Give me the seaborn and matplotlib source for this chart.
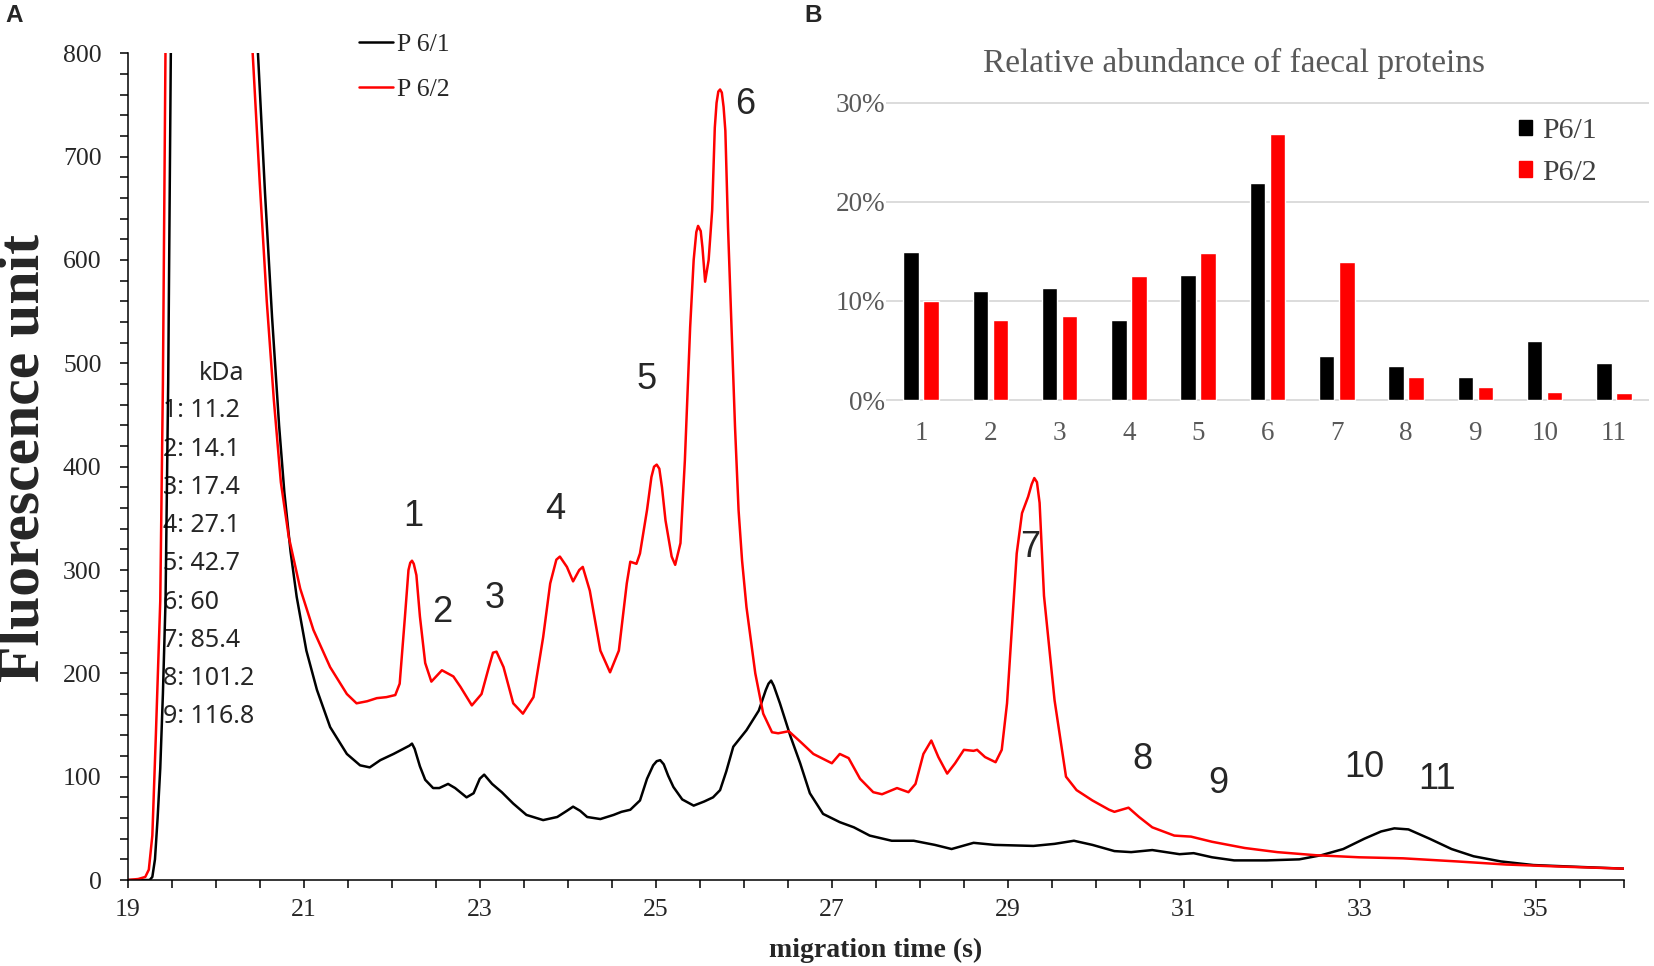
import numpy as np
import pandas as pd
import matplotlib
matplotlib.use('Agg')
import matplotlib.pyplot as plt
from matplotlib.ticker import MultipleLocator, PercentFormatter
from matplotlib.patches import Patch
import seaborn as sns

# electropherogram traces (time in s, fluorescence units)
time_p61 = [19.0, 19.25, 19.28, 19.31, 19.34, 19.37, 19.40, 19.43, 19.46, 19.49, 19.52, 19.9,
            20.45, 20.48, 20.56, 20.64, 20.72, 20.78, 20.85, 20.92, 21.03, 21.15, 21.30, 21.49,
            21.64, 21.75, 21.87, 22.02, 22.11, 22.20, 22.23, 22.26, 22.32, 22.38, 22.47, 22.54, 22.64,
            22.72, 22.85, 22.93, 23.00, 23.05, 23.14, 23.25, 23.38, 23.53, 23.72, 23.88, 23.99,
            24.06, 24.14, 24.22, 24.37, 24.52, 24.61, 24.71, 24.82, 24.90, 24.97, 25.01, 25.05, 25.09,
            25.14, 25.20, 25.30, 25.43, 25.55, 25.65, 25.73, 25.80, 25.88, 26.03, 26.17, 26.25, 26.28,
            26.31, 26.34, 26.41, 26.53, 26.64, 26.75, 26.90, 27.09, 27.25, 27.43, 27.68, 27.93, 28.17,
            28.36, 28.61, 28.85, 29.29, 29.53, 29.75, 29.96, 30.21, 30.40, 30.64, 30.95, 31.11, 31.32,
            31.57, 31.94, 32.31, 32.56, 32.81, 33.05, 33.24, 33.39, 33.55, 33.79, 34.04, 34.29, 34.60,
            34.97, 35.40, 36.0]
fluor_p61 = [0, 0, 3, 20, 60, 108, 180, 270, 480, 800, 1200, 3000,
             1200, 800, 665, 545, 440, 375, 318, 274, 222, 184, 148, 122,
             111, 109, 116, 122, 126, 130, 132, 127, 110, 97, 89, 89, 93,
             89, 80, 84, 98, 102, 93, 85, 74, 63, 58, 61, 67,
             71, 67, 61, 59, 63, 66, 68, 77, 98, 111, 115, 116, 112,
             101, 90, 78, 72, 76, 80, 87, 105, 129, 145, 164, 184, 190,
             193, 188, 171, 139, 113, 84, 64, 56, 51, 43, 38, 38, 34,
             30, 36, 34, 33, 35, 38, 34, 28, 27, 29, 25, 26, 22,
             19, 19, 20, 24, 30, 40, 47, 50, 49, 40, 30, 23, 18,
             14.5, 13, 11]

time_p62 = [19.0, 19.12, 19.20, 19.24, 19.28, 19.32, 19.37, 19.40, 19.43, 19.46, 19.9,
            20.38, 20.42, 20.50, 20.58, 20.66, 20.74, 20.83, 20.96, 21.11, 21.30, 21.49, 21.60,
            21.72, 21.83, 21.94, 22.04, 22.09, 22.15, 22.19, 22.21, 22.23, 22.25, 22.28, 22.32,
            22.38, 22.45, 22.57, 22.70, 22.78, 22.91, 23.02, 23.10, 23.15, 23.19, 23.27, 23.38,
            23.49, 23.61, 23.72, 23.80, 23.87, 23.91, 23.99, 24.06, 24.13, 24.17, 24.25, 24.37,
            24.48, 24.58, 24.67, 24.71, 24.78, 24.82, 24.90, 24.95, 24.98, 25.01, 25.04, 25.07,
            25.11, 25.18, 25.22, 25.28, 25.33, 25.39, 25.43, 25.46, 25.48, 25.51, 25.53, 25.56,
            25.60, 25.64, 25.67, 25.69, 25.71, 25.73, 25.75, 25.77, 25.79, 25.82, 25.86, 25.90,
            25.94, 25.98, 26.03, 26.13, 26.22, 26.32, 26.39, 26.51, 26.64, 26.79, 27.00, 27.09,
            27.19, 27.32, 27.47, 27.57, 27.74, 27.87, 27.95, 28.04, 28.13, 28.21, 28.31, 28.40,
            28.50, 28.61, 28.65, 28.74, 28.86, 28.93, 28.99, 29.05, 29.10, 29.16, 29.23, 29.27,
            29.30, 29.33, 29.36, 29.41, 29.47, 29.53, 29.66, 29.78, 29.96, 30.15, 30.21, 30.37,
            30.49, 30.64, 30.89, 31.08, 31.32, 31.69, 32.06, 32.50, 32.99, 33.49, 34.10, 34.66,
            35.28, 36.0]
fluor_p62 = [0, 1, 3, 10, 43, 140, 270, 480, 800, 1200, 3000,
             1200, 800, 675, 560, 465, 385, 332, 282, 242, 206, 180, 171,
             173, 176, 177, 179, 190, 255, 300, 307, 309, 306, 295, 255,
             210, 192, 203, 197, 187, 169, 180, 205, 220, 221, 206, 171,
             161, 177, 235, 287, 310, 313, 303, 289, 300, 303, 280, 222,
             201, 222, 287, 308, 306, 316, 358, 390, 400, 402, 398, 380,
             348, 313, 305, 326, 406, 535, 600, 627, 633, 628, 612, 579,
             600, 648, 728, 752, 763, 765, 762, 748, 725, 632, 535, 438,
             358, 309, 264, 200, 161, 143, 142, 144, 134, 122, 113, 122,
             118, 98, 85, 83, 89, 85, 93, 122, 135, 119, 103, 113,
             126, 125, 126, 119, 114, 126, 171, 251, 316, 355, 371, 383,
             389, 385, 365, 275, 225, 174, 100, 87, 77, 68, 66, 70,
             61, 51, 43, 42, 37, 31, 27, 24, 22, 21, 18, 15,
             13, 11]

# peak numbers written on the trace
peak_names = ['1', '2', '3', '4', '5', '6', '7', '8', '9', '10', '11']
peak_x = [22.25, 22.57, 23.17, 23.86, 24.90, 26.02, 29.25, 30.53, 31.39, 33.05, 33.87]
peak_y = [352, 259, 272, 359, 484, 750, 322, 117, 93, 109, 97]

kda_values = ['11.2', '14.1', '17.4', '27.1', '42.7', '60', '85.4', '101.2', '116.8']

# relative abundance (%) for panel B
abund_p61 = [14.9, 11.0, 11.3, 8.1, 12.6, 21.9, 4.4, 3.4, 2.3, 6.0, 3.7]
abund_p62 = [10.0, 8.1, 8.5, 12.5, 14.8, 26.9, 13.9, 2.3, 1.35, 0.8, 0.7]

sns.set_style('ticks')
plt.rcParams['font.family'] = ['Liberation Serif', 'DejaVu Serif']
SANS = ['Liberation Sans', 'DejaVu Sans']

fig = plt.figure(figsize=(16.54, 9.66), dpi=100)
ax = fig.add_axes([0.0772, 0.0890, 0.9047, 0.8558])

trace_df = pd.concat([
    pd.DataFrame({'time': time_p61, 'fluor': fluor_p61, 'sample': 'P 6/1'}),
    pd.DataFrame({'time': time_p62, 'fluor': fluor_p62, 'sample': 'P 6/2'}),
])
sns.lineplot(data=trace_df, x='time', y='fluor', hue='sample',
             palette={'P 6/1': 'black', 'P 6/2': '#ff0000'},
             estimator=None, sort=False, lw=1.8, ax=ax)

ax.set_xlim(19, 36)
ax.set_ylim(0, 800)
ax.set_xticks(range(19, 36, 2))
ax.xaxis.set_minor_locator(MultipleLocator(0.5))
ax.set_yticks(range(0, 801, 100))
ax.yaxis.set_minor_locator(MultipleLocator(20))
ax.tick_params(which='both', direction='out', length=5.8, width=1.1, color='black')
ax.tick_params(axis='x', labelsize=18.5, pad=8)
ax.tick_params(axis='y', labelsize=18.5, pad=13)
sns.despine(ax=ax)
for s in ['left', 'bottom']:
    ax.spines[s].set_linewidth(1.1)
    ax.spines[s].set_color('black')
ax.set_xlabel('')
ax.set_ylabel('')

h, l = ax.get_legend_handles_labels()
ax.legend(h, l, loc='upper left', bbox_to_anchor=(0.217, 1 - 33 / 966), bbox_transform=fig.transFigure,
          frameon=False, fontsize=18.5, handlelength=1.32, handletextpad=0.15,
          labelspacing=0.86, borderpad=0, borderaxespad=0)

for name, x, y in zip(peak_names, peak_x, peak_y):
    ax.text(x, y, name, fontsize=26, family=SANS, ha='center', va='center')

ax.text(20.07, 490, 'kDa', fontsize=18, family=['Noto Sans', 'DejaVu Sans'],
        ha='center', va='center', zorder=1)
for i, v in enumerate(kda_values):
    ax.text(19.40, 454 - 37 * i, f'{i + 1}: {v}', fontsize=18,
            family=['Noto Sans', 'DejaVu Sans'], ha='left', va='center', zorder=1)

fig.text(25 / 1654, 1 - 457.5 / 966, 'Fluorescence unit', rotation=90, fontsize=43,
         weight='bold', ha='center', va='center')
fig.text(876 / 1654, 1 - 950 / 966, 'migration time (s)', fontsize=20,
         weight='bold', ha='center', va='center')

# panel B inset
axb = fig.add_axes([0.5359, 0.5828, 0.4608, 0.3159])
axb.set_facecolor('none')
bar_df = pd.DataFrame({
    'peak': peak_names * 2,
    'abundance': abund_p61 + abund_p62,
    'sample': ['P6/1'] * 11 + ['P6/2'] * 11,
})
sns.barplot(data=bar_df, x='peak', y='abundance', hue='sample', order=peak_names,
            palette={'P6/1': 'black', 'P6/2': '#ff0000'}, width=0.58, gap=0.228,
            saturation=1, legend=False, ax=axb, zorder=3)
axb.set_xlim(-0.5, 10.5)
axb.set_ylim(-0.3, 30.5)
axb.set_yticks([0, 10, 20, 30])
axb.yaxis.set_major_formatter(PercentFormatter(100, decimals=0))
axb.grid(axis='y', color='#d9d9d9', lw=1.3)
axb.grid(axis='x', visible=False)
axb.set_axisbelow(True)
for s in axb.spines.values():
    s.set_visible(False)
axb.tick_params(length=0, labelsize=19.5, labelcolor='#595959')
axb.tick_params(axis='x', pad=13)
axb.tick_params(axis='y', pad=1)
axb.set_xlabel('')
axb.set_ylabel('')

axb.legend([Patch(color='black'), Patch(color='#ff0000')], ['P6/1', 'P6/2'],
           loc='upper left', bbox_to_anchor=(1519 / 1654, 1 - 118 / 966),
           bbox_transform=fig.transFigure, frameon=False, fontsize=21.5,
           labelcolor='#404040', handlelength=0.43, handleheight=0.43,
           handletextpad=0.33, labelspacing=0.53, borderpad=0, borderaxespad=0)

fig.text(1234 / 1654, 1 - 63 / 966, 'Relative abundance of faecal proteins',
         fontsize=24, color='#595959', ha='center', va='center')

fig.text(14.5 / 1654, 1 - 15.3 / 966, 'A', fontsize=17.5, weight='bold', family=SANS,
         ha='center', va='center')
fig.text(813 / 1654, 1 - 15.3 / 966, 'B', fontsize=17.5, weight='bold', family=SANS,
         ha='center', va='center')

fig.savefig('out.png', dpi=100)
